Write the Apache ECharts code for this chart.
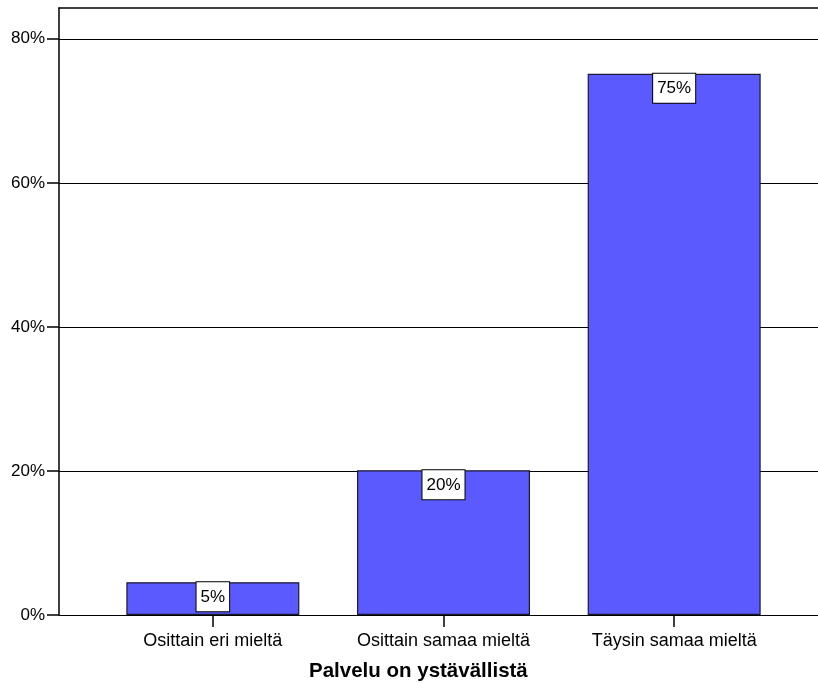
<!DOCTYPE html>
<html>
<head>
<meta charset="utf-8">
<script src="https://cdn.jsdelivr.net/npm/echarts@6/dist/echarts.min.js"></script>
<style>
  html, body { margin: 0; padding: 0; background: #fff; }
  #chart { width: 818px; height: 684px; }
</style>
</head>
<body>
<div id="chart"></div>
<script>
// Answer categories and their share of respondents (%)
const categories = ['Osittain eri mieltä', 'Osittain samaa mieltä', 'Täysin samaa mieltä'];
const shares = [4.55, 20.1, 75.15];
const yTicks = [0, 20, 40, 60, 80];
const axisTitle = 'Palvelu on ystävällistä';

const FONT = 'Liberation Sans, Arial, sans-serif';
const Y_MAX = 84.27;

const chart = echarts.init(document.getElementById('chart'), null, { renderer: 'canvas' });

chart.setOption({
  animation: false,
  backgroundColor: '#ffffff',
  title: {
    text: axisTitle,
    left: 309,
    top: 661,
    padding: 0,
    textStyle: { fontFamily: FONT, fontSize: 20.5, fontWeight: 'bold', color: '#000' }
  },
  grid: [
    // frame grid: left axis, gridlines, top rule
    { left: 59, right: 0, top: 8, bottom: 69, containLabel: false },
    // bar grid with the category bands
    { left: 97.5, right: 28.5, top: 8, bottom: 69, containLabel: false }
  ],
  xAxis: [
    {
      gridIndex: 0, type: 'value', min: 0, max: 1, position: 'top',
      axisLine: { show: true, onZero: false, lineStyle: { color: '#000', width: 1.5 } },
      axisTick: { show: false }, axisLabel: { show: false }, splitLine: { show: false }
    },
    {
      gridIndex: 1, type: 'category', data: categories, boundaryGap: true,
      axisLine: { show: false },
      axisTick: { show: true, alignWithLabel: true, length: 12, lineStyle: { color: '#000', width: 1.5 } },
      axisLabel: { fontFamily: FONT, fontSize: 18, color: '#000', margin: 17 },
      splitLine: { show: false }
    }
  ],
  yAxis: [
    {
      gridIndex: 0, type: 'value', min: 0, max: Y_MAX, interval: 20,
      axisLine: { show: true, lineStyle: { color: '#000', width: 1.5 } },
      axisTick: { show: true, length: 12, lineStyle: { color: '#000', width: 1.5 },
                  customValues: yTicks },
      axisLabel: {
        fontFamily: FONT, fontSize: 17, color: '#000', margin: 14,
        padding: [6, 0, 0, 0],
        customValues: yTicks,
        formatter: v => v + '%'
      },
      splitLine: { show: true, lineStyle: { color: '#000', width: 1.2 } }
    },
    {
      gridIndex: 1, type: 'value', min: 0, max: Y_MAX, show: false
    }
  ],
  series: [
    {
      type: 'bar',
      xAxisIndex: 1, yAxisIndex: 1,
      data: shares,
      barWidth: 173,
      itemStyle: { color: '#5a5aff', borderColor: '#1a1a2e', borderWidth: 1.2 },
      label: {
        show: true,
        position: 'insideTop',
        distance: 0,
        fontFamily: FONT, fontSize: 17, color: '#000',
        backgroundColor: '#fff',
        borderColor: '#000', borderWidth: 1,
        padding: [6, 4, 5, 4],
        lineHeight: 18,
        formatter: p => Math.round(p.value) + '%'
      },
      z: 3
    }
  ]
});
</script>
</body>
</html>
